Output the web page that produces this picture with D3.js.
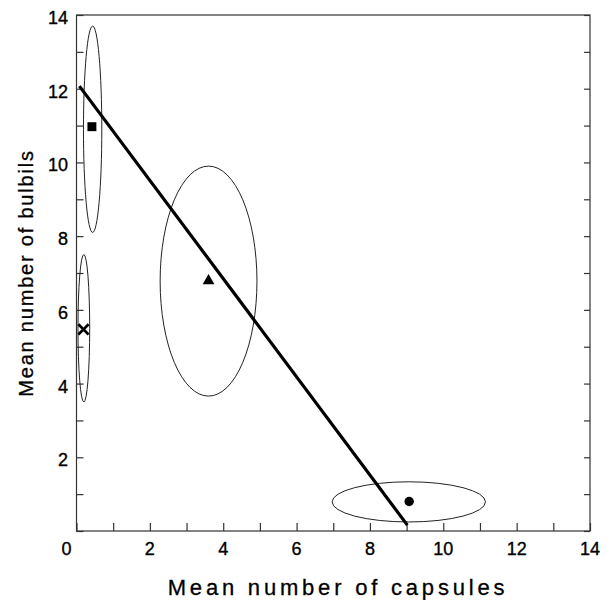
<!DOCTYPE html>
<html>
<head>
<meta charset="utf-8">
<script src="https://cdn.jsdelivr.net/npm/d3@7"></script>
<style>
  body { margin: 0; background: #fff; }
  svg { display: block; }
  text { font-family: "Liberation Sans", Arial, Helvetica, sans-serif; fill: #000; }
</style>
</head>
<body>
<svg id="chart" width="610" height="600"></svg>
<script>
// ---- data ----
const groups = ["square", "cross", "triangle", "circle"];
const meanCapsules = [0.42, 0.19, 3.6, 9.07];
const meanBulbils = [10.97, 5.47, 6.79, 0.8];
// ellipse centres and half-axes (data units)
const ellipseCx = [0.44, 0.2, 3.6, 9.06];
const ellipseCy = [10.9, 5.5, 6.78, 0.79];
const ellipseRx = [0.25, 0.16, 1.32, 2.09];
const ellipseRy = [2.8, 2.0, 3.12, 0.545];
// regression line endpoints
const lineX = [0.08, 9.02];
const lineY = [12.07, 0.16];
const xTickLabels = [0, 2, 4, 6, 8, 10, 12, 14];
const yTickLabels = [2, 4, 6, 8, 10, 12, 14];
const minorTicks = d3.range(0, 15);

const svg = d3.select("#chart");
const x = d3.scaleLinear().domain([0, 14]).range([76.5, 590]);
const y = d3.scaleLinear().domain([0, 14]).range([531, 15]);

const axisColor = "#333";
// frame
svg.append("rect")
  .attr("x", x(0)).attr("y", y(14))
  .attr("width", x(14) - x(0)).attr("height", y(0) - y(14))
  .attr("fill", "none").attr("stroke", axisColor).attr("stroke-width", 1.2);

// bottom axis ticks (inward)
const gx = svg.append("g").attr("transform", `translate(0,${y(0)})`)
  .call(d3.axisBottom(x).tickValues(minorTicks).tickSize(-8).tickFormat(""));
gx.select(".domain").remove();
gx.selectAll(".tick line").attr("stroke", axisColor).attr("stroke-width", 1.2);

// left axis ticks (inward)
const gy = svg.append("g").attr("transform", `translate(${x(0)},0)`)
  .call(d3.axisLeft(y).tickValues(minorTicks).tickSize(-7).tickFormat(""));
gy.select(".domain").remove();
gy.selectAll(".tick line").attr("stroke", axisColor).attr("stroke-width", 1.2);

// right axis ticks (inward)
const gr = svg.append("g").attr("transform", `translate(${x(14)},0)`)
  .call(d3.axisRight(y).tickValues(minorTicks).tickSize(-6).tickFormat(""));
gr.select(".domain").remove();
gr.selectAll(".tick line").attr("stroke", axisColor).attr("stroke-width", 1.2);

// tick labels
svg.append("g").selectAll("text").data(xTickLabels).join("text")
  .attr("x", d => x(d) + (d === 0 ? -10 : 0))
  .attr("y", 555)
  .attr("text-anchor", "middle")
  .attr("font-size", 18)
  .attr("stroke", "#000").attr("stroke-width", 0.35)
  .text(d => d);

svg.append("g").selectAll("text").data(yTickLabels).join("text")
  .attr("x", 68)
  .attr("y", d => y(d) + 9)
  .attr("text-anchor", "end")
  .attr("font-size", 18)
  .attr("stroke", "#000").attr("stroke-width", 0.35)
  .text(d => d);

// axis titles
svg.append("text")
  .attr("x", 338).attr("y", 595)
  .attr("text-anchor", "middle")
  .attr("font-size", 22)
  .attr("letter-spacing", 3.8)
  .attr("stroke", "#000").attr("stroke-width", 0.3)
  .text("Mean number of capsules");

svg.append("text")
  .attr("transform", "translate(33,273) rotate(-90)")
  .attr("text-anchor", "middle")
  .attr("font-size", 20)
  .attr("letter-spacing", 1.8)
  .attr("stroke", "#000").attr("stroke-width", 0.3)
  .text("Mean number of bulbils");

// ellipses
svg.append("g").selectAll("ellipse").data(groups).join("ellipse")
  .attr("cx", (d, i) => x(ellipseCx[i]))
  .attr("cy", (d, i) => y(ellipseCy[i]))
  .attr("rx", (d, i) => x(ellipseRx[i]) - x(0))
  .attr("ry", (d, i) => y(0) - y(ellipseRy[i]))
  .attr("fill", "none").attr("stroke", "#222").attr("stroke-width", 1);

// regression line
svg.append("path")
  .datum(d3.zip(lineX, lineY))
  .attr("d", d3.line().x(d => x(d[0])).y(d => y(d[1])))
  .attr("fill", "none").attr("stroke", "#000").attr("stroke-width", 3.2);

// markers
const sym = {
  square: d3.symbolSquare,
  triangle: d3.symbolTriangle,
  circle: d3.symbolCircle,
  cross: d3.symbolX
};
const sizes = { square: 80, triangle: 60, circle: 70, cross: 70 };
svg.append("g").selectAll("path").data(groups).join("path")
  .attr("transform", (d, i) => `translate(${x(meanCapsules[i])},${y(meanBulbils[i])})`)
  .attr("d", d => d3.symbol().type(sym[d]).size(sizes[d])())
  .attr("fill", d => d === "cross" ? "none" : "#000")
  .attr("stroke", "#000")
  .attr("stroke-width", d => d === "cross" ? 2.6 : 0);
</script>
</body>
</html>
